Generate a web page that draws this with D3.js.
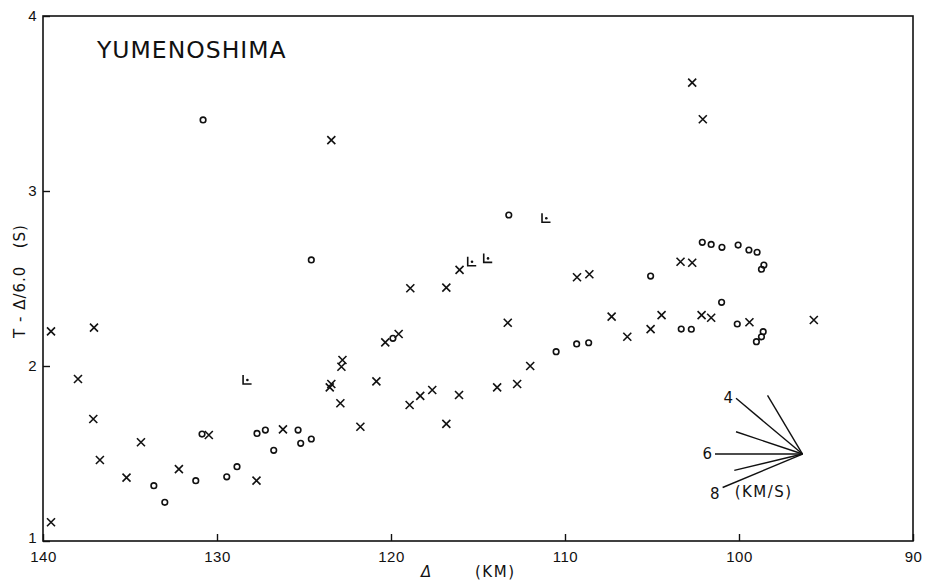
<!DOCTYPE html>
<html>
<head>
    <meta charset="utf-8" />
    <title>YUMENOSHIMA</title>
    <script src="https://d3js.org/d3.v7.min.js"></script>
    <style>
        body { margin: 0; background: #fff; }
        svg { font-family: "DejaVu Sans", sans-serif; }
        .tick text { font-size: 15px; letter-spacing: 0.5px; fill: #111; }
        .mark { fill: none; stroke: #111; stroke-width: 1.6; }
    </style>
</head>
<body>
<div id="chart"></div>
<script>
    // distance (km), reduced time T - D/6.0 (s)
    var crossDist = [139.54,139.54,137.99,137.07,137.11,136.73,135.2,134.37,132.19,130.47,127.73,126.21,
        123.43,123.52,123.43,122.79,122.85,122.91,121.76,120.84,120.33,119.56,118.89,118.93,118.32,117.63,
        116.82,116.82,116.06,116.09,113.9,113.29,112.75,112.0,109.31,108.6,107.32,106.42,105.08,104.45,
        103.36,102.69,102.69,102.08,102.15,101.6,99.4,95.7];
    var crossTime = [2.198,1.107,1.926,2.219,1.697,1.463,1.362,1.564,1.411,1.606,1.345,1.638,
        3.291,1.878,1.897,2.034,1.996,1.787,1.653,1.912,2.135,2.183,2.444,1.777,1.829,1.863,
        2.448,1.669,2.549,1.834,1.878,2.247,1.897,2.0,2.507,2.524,2.282,2.167,2.211,2.291,
        2.596,2.59,3.619,3.41,2.291,2.276,2.25,2.263];

    var circleDist = [133.63,133.0,131.22,130.86,130.8,129.44,128.85,127.7,127.22,126.74,125.34,125.19,
        124.58,124.58,119.89,113.23,110.51,109.33,108.64,105.08,103.32,102.74,102.11,101.6,100.98,101.0,
        100.05,100.1,99.43,98.96,98.57,98.71,98.61,98.71,99.0];
    var circleTime = [1.316,1.221,1.345,1.611,3.406,1.367,1.425,1.615,1.634,1.518,1.634,1.558,
        1.583,2.606,2.158,2.863,2.082,2.126,2.133,2.514,2.211,2.21,2.707,2.695,2.678,2.364,
        2.691,2.24,2.663,2.65,2.577,2.553,2.196,2.167,2.139];

    var squareDist = [128.3, 115.39, 114.47, 111.12];
    var squareTime = [1.92, 2.596, 2.615, 2.844];

    var xTicks = [140, 130, 120, 110, 100, 90];
    var yTicks = [1, 2, 3, 4];

    // velocity fan (km/s) and line length (km)
    var fanApex = [96.35, 1.497];
    var fanVel = [3, 4, 5, 6, 7, 8];
    var fanLen = [2.01, 3.82, 3.82, 5.03, 3.92, 4.59];
    var fanLabels = {4: "4", 6: "6", 8: "8"};

    var width = 928, height = 586;
    var x = d3.scaleLinear().domain([140, 90]).range([43, 913]);
    var y = d3.scaleLinear().domain([1, 4]).range([541, 16]);

    var svg = d3.select("#chart").append("svg")
        .attr("width", width)
        .attr("height", height);

    svg.append("g")
        .attr("transform", "translate(0,541)")
        .call(d3.axisBottom(x).tickValues(xTicks).tickFormat(d3.format("d"))
            .tickSizeInner(-7).tickSizeOuter(0).tickPadding(10))
        .call(function(g) { g.select(".domain").remove(); })
        .call(function(g) { g.selectAll("line").attr("stroke", "#111").attr("stroke-width", 1.4); });

    svg.append("g")
        .attr("transform", "translate(43,0)")
        .call(d3.axisLeft(y).tickValues(yTicks).tickFormat(d3.format("d"))
            .tickSizeInner(-7).tickSizeOuter(0).tickPadding(6))
        .call(function(g) { g.select(".domain").remove(); })
        .call(function(g) { g.selectAll("line").attr("stroke", "#111").attr("stroke-width", 1.4); })
        .call(function(g) {
            // lift the bottom label a little so it clears the "140"
            g.selectAll(".tick").filter(function(d) { return d === 1; })
                .select("text").attr("dy", "0.1em");
        });

    svg.append("rect")
        .attr("x", x(140)).attr("y", y(4))
        .attr("width", x(90) - x(140)).attr("height", y(1) - y(4))
        .attr("fill", "none").attr("stroke", "#111").attr("stroke-width", 1.6);

    svg.append("text")
        .attr("x", 97).attr("y", 58)
        .attr("font-size", 23.5).attr("letter-spacing", 1).attr("fill", "#111")
        .text("YUMENOSHIMA");

    // axis titles
    var xt = svg.append("text").attr("y", 577).attr("font-size", 15).attr("fill", "#111");
    xt.append("tspan").attr("x", 421).attr("font-style", "italic").text("Δ");
    xt.append("tspan").attr("x", 475).attr("letter-spacing", 1.5).text("(KM)");

    svg.append("text")
        .attr("transform", "translate(25,281) rotate(-90)")
        .attr("text-anchor", "middle")
        .attr("font-size", 15).attr("letter-spacing", 1).attr("fill", "#111")
        .attr("xml:space", "preserve")
        .text("T - Δ/6.0   (S)");

    var cross = crossDist.map(function(d, i) { return [d, crossTime[i]]; });
    var circ = circleDist.map(function(d, i) { return [d, circleTime[i]]; });
    var sq = squareDist.map(function(d, i) { return [d, squareTime[i]]; });

    svg.selectAll(".cross").data(cross).enter().append("path")
        .attr("class", "mark")
        .attr("transform", function(d) { return "translate(" + x(d[0]) + "," + y(d[1]) + ")"; })
        .attr("d", "M-4,-4L4,4M-4,4L4,-4");

    svg.selectAll(".circ").data(circ).enter().append("circle")
        .attr("class", "mark")
        .attr("cx", function(d) { return x(d[0]); })
        .attr("cy", function(d) { return y(d[1]); })
        .attr("r", 2.8);

    var sqg = svg.selectAll(".sq").data(sq).enter().append("g")
        .attr("transform", function(d) { return "translate(" + x(d[0]) + "," + y(d[1]) + ")"; });
    sqg.append("path").attr("class", "mark").attr("d", "M-3.5,-5V4H5");
    sqg.append("circle").attr("cx", 0.8).attr("cy", 0).attr("r", 1.3).attr("fill", "#111");

    // velocity fan
    var fan = fanVel.map(function(v, i) {
        return { v: v, x: fanApex[0] + fanLen[i], y: fanApex[1] + fanLen[i] * (1 / v - 1 / 6) };
    });
    svg.selectAll(".fan").data(fan).enter().append("line")
        .attr("x1", x(fanApex[0])).attr("y1", y(fanApex[1]))
        .attr("x2", function(d) { return x(d.x); })
        .attr("y2", function(d) { return y(d.y); })
        .attr("stroke", "#111").attr("stroke-width", 1.4);

    svg.selectAll(".fanlab").data(fan.filter(function(d) { return fanLabels[d.v]; })).enter().append("text")
        .attr("x", function(d) { return x(d.x) - 3; })
        .attr("y", function(d) { return y(d.y) + (d.v === 8 ? 12 : 5); })
        .attr("text-anchor", "end").attr("font-size", 15).attr("fill", "#111")
        .text(function(d) { return fanLabels[d.v]; });

    svg.append("text")
        .attr("x", x(fan[5].x) + 12).attr("y", 497)
        .attr("font-size", 15).attr("letter-spacing", 1.5).attr("fill", "#111")
        .text("(KM/S)");
</script>
</body>
</html>
